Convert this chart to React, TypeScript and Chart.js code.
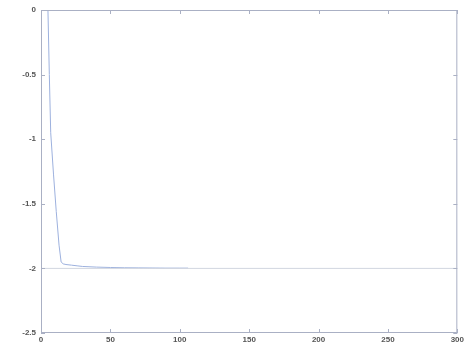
import React, { useEffect, useRef } from "react";
import { Chart, registerables } from "chart.js";

Chart.register(...registerables);

const xValues = [5, 6, 7, 9, 11, 13, 14.5, 16, 18, 22, 26, 30, 40, 50, 60, 70, 80, 90, 100, 106];
const yValues = [0, -0.5, -0.95, -1.27, -1.56, -1.82, -1.95, -1.965, -1.97, -1.975, -1.98, -1.985, -1.99, -1.993, -1.995, -1.996, -1.997, -1.998, -1.998, -1.998];
const refX = [0, 300];
const refY = [-2, -2];
const xTicks = [0, 50, 100, 150, 200, 250, 300];
const yTicks = [0, -0.5, -1, -1.5, -2, -2.5];

const AXIS = "#aab0c4";

const boxPlugin = {
  id: "boxTicks",
  afterDatasetsDraw(chart: any) {
    const { ctx, chartArea: a, scales } = chart;
    ctx.save();
    ctx.strokeStyle = AXIS;
    ctx.lineWidth = 1;
    ctx.strokeRect(a.left + 0.5, a.top + 0.5, a.right - a.left - 1, a.bottom - a.top - 1);
    ctx.beginPath();
    for (const v of xTicks) {
      const px = Math.round(scales.x.getPixelForValue(v)) + 0.5;
      ctx.moveTo(px, a.bottom);
      ctx.lineTo(px, a.bottom - 4);
      ctx.moveTo(px, a.top);
      ctx.lineTo(px, a.top + 4);
    }
    for (const v of yTicks) {
      const py = Math.round(scales.y.getPixelForValue(v)) + 0.5;
      ctx.moveTo(a.left, py);
      ctx.lineTo(a.left + 4, py);
      ctx.moveTo(a.right, py);
      ctx.lineTo(a.right - 4, py);
    }
    ctx.stroke();
    ctx.restore();
  },
};

export default function App() {
  const ref = useRef<HTMLCanvasElement>(null);
  useEffect(() => {
    if (!ref.current) return;
    const chart = new Chart(ref.current, {
      type: "scatter",
      data: {
        datasets: [
          {
            data: refX.map((x, i) => ({ x, y: refY[i] })),
            showLine: true,
            borderColor: "#d2d6e0",
            borderWidth: 1,
            pointRadius: 0,
          },
          {
            data: xValues.map((x, i) => ({ x, y: yValues[i] })),
            showLine: true,
            borderColor: "#9db1de",
            borderWidth: 1,
            pointRadius: 0,
            tension: 0,
          },
        ],
      },
      options: {
        animation: false,
        responsive: false,
        maintainAspectRatio: false,
        layout: { padding: { top: 10, right: 6, left: 0, bottom: 0 } },
        plugins: { legend: { display: false }, tooltip: { enabled: false } },
        scales: {
          x: {
            type: "linear",
            min: 0,
            max: 300,
            afterBuildTicks: (s: any) => {
              s.ticks = xTicks.map((v) => ({ value: v }));
            },
            afterFit: (s: any) => {
              s.height = 14;
            },
            grid: { display: false, tickLength: 0, drawTicks: false },
            border: { display: false },
            ticks: {
              color: "#555",
              font: { size: 8, family: "Liberation Sans", weight: "bold" },
              padding: 2,
              maxRotation: 0,
              autoSkip: false,
              callback: (v: any) => String(v),
            },
          },
          y: {
            type: "linear",
            min: -2.5,
            max: 0,
            afterBuildTicks: (s: any) => {
              s.ticks = yTicks.map((v) => ({ value: v }));
            },
            afterFit: (s: any) => {
              s.width = 41;
            },
            grid: { display: false, tickLength: 0, drawTicks: false },
            border: { display: false },
            ticks: {
              color: "#555",
              font: { size: 8, family: "Liberation Sans", weight: "bold" },
              padding: 5,
              autoSkip: false,
              callback: (v: any) => String(v),
            },
          },
        },
      },
      plugins: [boxPlugin],
    });
    return () => chart.destroy();
  }, []);
  return (
    <div style={{ position: "fixed", left: 0, top: 0, width: 466, height: 347, background: "#fff" }}>
      <canvas ref={ref} width={466} height={347} />
    </div>
  );
}
